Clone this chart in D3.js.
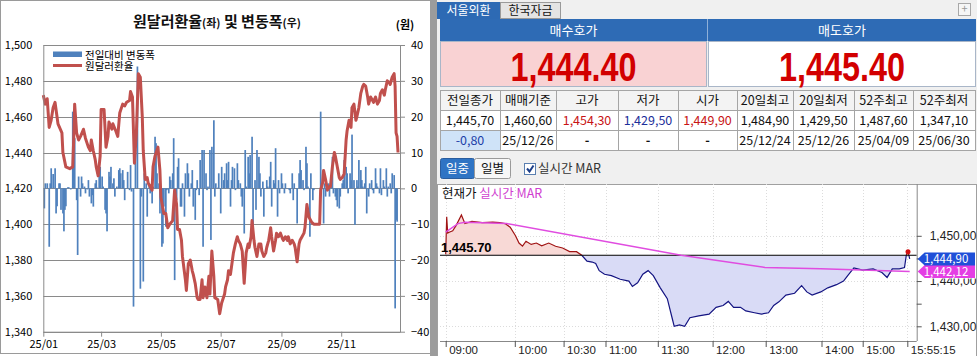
<!DOCTYPE html>
<html><head><meta charset="utf-8">
<script src="https://cdn.jsdelivr.net/npm/d3@7"></script>
<style>
html,body{margin:0;padding:0;background:#fff;}
svg{display:block;font-family:"Noto Sans CJK KR","Noto Sans",sans-serif;}
</style></head><body>
<svg id="c" width="977" height="356"></svg>
<script>
// ================= DATA : left chart =================
const lineDays = [0,2,4,6,8,10,12,14,15,19,20,23,27,30,31,32,34,36,38,41,43,46,48,49,51,53,54,56,58,59,62,64,66,67,70,71,74,76,78,81,83,85,88,89,91,93,95,97,99,101,102,104,106,107,109,111,112,114,117,119,120,123,125,127,129,132,134,136,137,139,141,142,145,146,148,150,152,153,155,157,158,160,162,163,165,167,169,170,172,174,175,178,180,182,185,186,188,189,191,193,194,196,198,199,201,203,205,207,209,210,212,213,215,216,218,220,222,223,225,227,228,230,232,233,235,237,238,240,242,244,245,247,249,250,252,254,256,257,259,261,262,264,266,267,269,271,273,274,276,282,283,285,286,288,290,292,293,295,297,298,300,302,303,305,307,309,310,312,314,315,317,319,320,322,324,326,327,329,331,332,334,336,337,339,341,343,344,346,348,349,351,353,354,356,358,359,360,361,362];
const lineValues = [1472,1467,1470,1454,1458,1465,1468,1460,1456,1451,1440,1432,1431,1432,1447,1467,1451,1447,1449,1453,1448,1443,1441,1447,1441,1436,1432,1427,1438,1464,1464,1443,1449,1457,1453,1456,1452,1449,1462,1467,1466,1468,1469,1474,1471,1434,1451,1484,1482,1460,1441,1425,1426,1423,1421,1419,1432,1438,1443,1430,1415,1406,1406,1398,1400,1402,1419,1411,1397,1397,1391,1382,1369,1363,1378,1380,1374,1372,1367,1359,1358,1358,1369,1359,1365,1359,1371,1361,1385,1371,1359,1358,1350,1356,1361,1365,1369,1374,1372,1380,1384,1389,1393,1391,1389,1385,1367,1384,1389,1387,1393,1402,1391,1387,1382,1389,1389,1385,1382,1384,1387,1391,1398,1393,1385,1391,1395,1393,1395,1392,1391,1393,1391,1393,1389,1391,1389,1387,1379,1389,1391,1393,1395,1398,1411,1404,1402,1401,1400,1400,1419,1423,1430,1425,1419,1421,1421,1432,1440,1438,1432,1426,1425,1426,1428,1447,1452,1458,1454,1465,1467,1458,1460,1465,1473,1477,1478,1477,1471,1467,1471,1469,1468,1471,1467,1469,1473,1475,1472,1475,1480,1479,1478,1482,1484,1477,1451,1449,1440];
const barDays = [1,2,4,6,7,8,10,12,13,14,16,17,18,20,21,22,23,25,26,28,30,31,32,34,35,36,38,39,40,42,43,45,46,47,49,50,51,53,54,55,57,58,60,61,63,64,65,67,68,69,71,72,73,75,77,78,79,81,82,83,85,86,88,89,90,92,94,96,99,100,102,103,105,106,108,109,111,112,114,115,116,118,119,121,122,123,125,126,128,129,130,132,133,134,136,137,138,140,141,142,144,145,147,148,149,151,152,153,155,156,157,159,160,162,163,164,166,167,168,170,171,172,174,175,176,178,179,181,182,184,185,187,188,189,191,192,193,195,196,198,199,201,202,203,205,206,207,209,210,211,213,214,216,217,218,220,221,222,224,225,226,228,229,231,232,233,235,236,237,239,240,241,243,244,246,247,248,250,251,252,254,255,256,258,259,261,262,263,265,266,268,269,270,272,273,275,276,283,284,286,287,288,290,291,292,294,295,296,298,299,300,302,303,305,306,307,309,310,311,313,314,315,317,318,320,321,322,324,325,326,328,329,330,332,333,335,336,337,339,340,341,343,344,345,347,348,350,351,352,354,355,356,358,359,360,361];
const barValues = [-5.6,1.4,1.4,-16.3,1.4,5.6,4,5.6,-7,-5,1.4,1.4,-6,-7,-12,-6,-5,0.3,0.3,-0.3,21.4,6.5,14,-3.3,-18.6,3.3,-2.3,3.3,1.4,0.5,-1.4,-0.3,2.3,-2.3,-4.2,-1.9,-5.1,1.4,2.3,0.2,4.6,6,3.3,0.5,-6,-7,-12,4.6,3.3,6,1.4,2.8,-2.3,0.5,5.1,5.6,4.2,5.1,2.3,-3.3,0.1,4.6,-0.5,6.5,-0.9,-33,10.7,34,-28,-2.3,-26,4.2,1.4,-7.9,1.4,-1.4,-4.2,0.5,14.4,12.6,4.2,1.4,-7,-16.3,-15.4,-5.1,-10.7,-0.5,-1.4,3.3,2.3,4.2,14,-25.6,-3.3,6,8.4,-5.1,-5.1,1.4,-7.9,4.2,7,4.2,-2.3,1.4,5.1,-5.1,-8.8,-0.5,2.3,-1.9,7.9,10.7,-16.3,10.7,4.2,-0.5,0.5,10.7,-14.4,11.6,19,-2.3,1.4,0.2,4.2,-7,6,2.3,4.2,7,2.3,7.4,-5.1,2.3,6,5.6,-0.5,7,2.3,1.4,-2.3,-5.1,-12.6,10.7,0.5,8.8,4.2,9.3,14.4,-12.6,2.3,-6,10.7,8.8,4.2,-2.3,1.9,-7.9,0.1,2.3,0.5,3.3,7.4,-5.1,2.3,1.4,11.2,-7.9,2.3,-1.4,4.2,1.4,-1.4,1.4,0.1,0.1,-0.5,-1.4,4.2,-3.3,1.4,0.1,-9.8,4.2,7.9,5.1,2.3,-0.5,11.6,7,0.5,-13.5,4.2,-3.3,-0.5,21.4,0.5,-9.8,1.4,-2.3,0.5,1.4,-2.3,3.3,8.8,-1.4,-2.3,-3.3,-5.1,-5.6,-2.3,1.4,2.3,7.9,6,4.2,-1.4,4.2,2.3,15,2.3,-10.2,2.3,0.5,7.9,5.1,2.3,0.5,1.4,6,-7,-2.3,1.4,2.3,-0.5,-1.4,5.6,1.4,0.5,-1.4,5.6,-1.9,2.3,0.5,5.6,-2.3,0.5,1.4,-1.4,4.2,3.7,-33.5,-8.8,-9.3];
const leftTicks = [1340,1360,1380,1400,1420,1440,1460,1480,1500];
const rightTicks = [-40,-30,-20,-10,0,10,20,30,40];
const monthTickMonths = [0,2,4,6,8,10];
const monthTickLabels = ["25/01","25/03","25/05","25/07","25/09","25/11"];
const legendLabels = ["전일대비 변동폭","원달러환율"];

// ================= DATA : right panel =================
const tabLabels = ["서울외환","한국자금"];
const quoteHeaders = ["매수호가","매도호가"];
const quoteValues = ["1,444.40","1,445.40"];
const tableHeaders = ["전일종가","매매기준","고가","저가","시가","20일최고","20일최저","52주최고","52주최저"];
const tableRow1 = ["1,445,70","1,460,60","1,454,30","1,429,50","1,449,90","1,484,90","1,429,50","1,487,60","1,347,10"];
const tableRow2 = ["-0,80","25/12/26","-","-","-","25/12/24","25/12/26","25/04/09","25/06/30"];
const row1Kinds = ["n","n","up","down","up","n","n","n","n"];
const intraIdx = [0,1,2,3.5,7,10.5,15.7,19.2,26.2,36.6,47.1,54,59.3,64.5,69.8,73.3,76.8,80.3,85.5,90.7,96,103,109.9,116.9,123.9,130.8,136.1,141.3,146.5,150,153.5,158.8,165.7,174.5,183.2,186.7,191.9,197.1,202.4,207.6,214.6,221.6,226.8,228.5,233.8,239,244.2,253,263.4,270.4,277.4,282.6,287.9,294.8,300.1,308.8,315.8,322.8,328,333.2,340.2,348.9,355.9,361.1,366.4,375.1,382.1,390.8,397.8,403,408.2,417,427.4,436.2,441.4,446.6,453.6,458.8,460.6,462.3,464];
const intraPrice = [1445.9,1454.2,1450.6,1450.8,1451.1,1452.3,1454.6,1452.7,1453.2,1452.9,1453.0,1452.9,1452.7,1451.9,1450.0,1448.4,1447.7,1448.8,1448.1,1448.4,1447.8,1448.4,1447.7,1447.3,1446.5,1446.5,1445.7,1444.4,1444.2,1443.9,1442.3,1441.5,1441.2,1440.4,1440.0,1438.8,1439.6,1441.5,1442.3,1441.2,1438.5,1436.1,1431.5,1430.0,1430.3,1430.0,1431.9,1432.3,1432.7,1434.2,1434.6,1435.5,1434.2,1434.2,1433.4,1433.0,1432.7,1433.0,1434.6,1435.4,1436.9,1437.3,1439.0,1437.6,1436.9,1437.6,1438.5,1439.2,1440.0,1441.5,1442.9,1442.4,1442.7,1441.9,1440.8,1442.7,1442.7,1443.0,1445.7,1446.5,1444.9];
const marIdx = [0,12.2,19.2,61,235.5,319.3,375,464];
const marValue = [1450.8,1452.7,1453.0,1452.7,1445.7,1443.0,1442.7,1442.12];
const prevClose = 1445.70;
const lastPrice = 1444.90;
const lastMar = 1442.12;
const intraTickIdx = [0,69.1,117.9,159.8,212.1,266.9,320,375.8,417,461.6];
const intraTickLabels = ["09:00","10:00","10:30","11:00","11:30","12:00","13:00","14:00","15:00","15:55:15"];
const priceAxisTicks = [1430,1440,1450];
const priceMinorTicks = [1430,1435,1440,1445,1450];

// ================= LEFT CHART =================
const svg = d3.select("#c");
const toDate = d => new Date(2025,0,1+d);
const xL = d3.scaleTime().domain([new Date(2025,0,1), new Date(2025,11,31)]).range([43.3,400]);
const yL = d3.scaleLinear().domain([1340,1500]).range([331.7,45]);
const yR = d3.scaleLinear().domain([-40,40]).range([331.7,45]);

const L = svg.append("g");
L.append("rect").attr("x",0.5).attr("y",0.5).attr("width",430).attr("height",353).attr("fill","#fff").attr("stroke","#9a9a9a");

// gridlines
L.append("g").selectAll("line").data(leftTicks).join("line")
  .attr("x1",43.3).attr("x2",400)
  .attr("y1",d=>Math.round(yL(d))+0.5).attr("y2",d=>Math.round(yL(d))+0.5)
  .attr("stroke","#8a8a8a").attr("stroke-width",1);

// bars
L.append("g").selectAll("rect").data(barDays.map((d,i)=>({d,v:barValues[i]}))).join("rect")
  .attr("x",p=>xL(toDate(p.d))-0.8).attr("width",1.7)
  .attr("y",p=>Math.min(yR(p.v),yR(0))).attr("height",p=>Math.abs(yR(p.v)-yR(0)))
  .attr("fill","#4f81bd");

// line
const lineData = lineDays.map((d,i)=>({d,v:lineValues[i]}));
L.append("path").datum(lineData)
  .attr("d",d3.line().x(p=>xL(toDate(p.d))).y(p=>yL(p.v)))
  .attr("fill","none").attr("stroke","#c0504d").attr("stroke-width",3).attr("stroke-linejoin","round");

// axes
const axL = L.append("g").attr("transform","translate(43.3,0)")
  .call(d3.axisLeft(yL).tickValues(leftTicks).tickFormat(d3.format(",")).tickSize(0).tickPadding(11));
const axR = L.append("g").attr("transform","translate(400,0)")
  .call(d3.axisRight(yR).tickValues(rightTicks).tickFormat(d3.format("d")).tickSizeInner(5).tickSizeOuter(0).tickPadding(6));
const axB = L.append("g").attr("transform","translate(0,331.7)")
  .call(d3.axisBottom(xL).tickValues(monthTickMonths.map(m=>new Date(2025,m,1))).tickFormat((d,i)=>monthTickLabels[i]).tickSizeInner(5).tickSizeOuter(0).tickPadding(4));
[axL,axR,axB].forEach(a=>{
  a.select(".domain").attr("stroke","#8a8a8a");
  a.selectAll(".tick line").attr("stroke","#8a8a8a");
  a.selectAll("text").attr("fill","#000").style("font-size","11px").style("font-family","'Noto Sans CJK KR',sans-serif");
});

// title
const title = L.append("text").attr("x",217).attr("y",27).attr("text-anchor","middle")
  .style("font-size","15px").style("font-weight","700").attr("fill","#111");
title.append("tspan").text("원달러환율");
title.append("tspan").text("(좌)").style("font-size","11px");
title.append("tspan").text(" 및 변동폭");
title.append("tspan").text("(우)").style("font-size","11px");
L.append("text").attr("x",405).attr("y",29).attr("text-anchor","middle").style("font-size","11px").style("font-weight","700").text("(원)");

// legend
L.append("rect").attr("x",53).attr("y",51.5).attr("width",29).attr("height",5.5).attr("fill","#4f81bd");
L.append("line").attr("x1",53).attr("x2",82).attr("y1",65.5).attr("y2",65.5).attr("stroke","#c0504d").attr("stroke-width",3);
L.selectAll("text.leg").data(legendLabels).join("text").attr("class","leg")
  .attr("x",85).attr("y",(d,i)=>58.5+i*11.5).style("font-size","10.5px").text(d=>d);

// ================= RIGHT PANEL =================
const R = svg.append("g");
R.append("rect").attr("x",430).attr("y",0).attr("width",7).attr("height",356).attr("fill","#9c9c9c");
R.append("rect").attr("x",437).attr("y",0).attr("width",540).attr("height",356).attr("fill","#f0f0f0");

// tabs
const tabX = [437,500], tabW = [63,61];
tabLabels.forEach((t,i)=>{
  R.append("rect").attr("x",tabX[i]+0.5).attr("y",2.5).attr("width",tabW[i]-1).attr("height",16)
    .attr("fill",i===0?"#2d6ab4":"#e4e4e4").attr("stroke",i===0?"#2d6ab4":"#9a9a9a");
  R.append("text").attr("x",tabX[i]+tabW[i]/2).attr("y",15).attr("text-anchor","middle")
    .style("font-size","12px").attr("fill",i===0?"#fff":"#111").text(t);
});
R.append("rect").attr("x",958.5).attr("y",3.5).attr("width",12).attr("height",12).attr("fill","#f6f6f6").attr("stroke","#a8a8a8");
R.append("text").attr("x",964.5).attr("y",13).attr("text-anchor","middle").style("font-size","11px").attr("fill","#999").text("+");

// quote header + values
const qX = [440,708], qW = [267,268];
quoteHeaders.forEach((h,i)=>{
  R.append("rect").attr("x",qX[i]).attr("y",19).attr("width",qW[i]).attr("height",22).attr("fill","#2e6bb5");
  R.append("text").attr("x",qX[i]+qW[i]/2).attr("y",35).attr("text-anchor","middle").style("font-size","13px").attr("fill","#fff").text(h);
  R.append("rect").attr("x",qX[i]+0.5).attr("y",41.5).attr("width",qW[i]-1).attr("height",45).attr("fill",i===0?"#f9d2d3":"#fff").attr("stroke","#a9b6c8");
  R.append("text").attr("x",qX[i]+qW[i]/2).attr("y",81).attr("text-anchor","middle")
    .style("font-family","'Liberation Sans',Arial,sans-serif").style("font-size","40px").style("font-weight","700")
    .attr("fill","#d20000").attr("textLength",126).attr("lengthAdjust","spacingAndGlyphs").text(quoteValues[i]);
});
R.append("line").attr("x1",707.5).attr("x2",707.5).attr("y1",19).attr("y2",41).attr("stroke","#8fb0d8");

// table
const colB = [440,500,556,618,678,737,793,854,913,975];
const rowY = [90,110,130,150];
const tbl = R.append("g");
for(let r=0;r<3;r++){
  for(let c=0;c<9;c++){
    let fill = r===0?"#f3f3f3":"#ffffff";
    if(r===2 && c===0) fill="#cfe3f8";
    tbl.append("rect").attr("x",colB[c]+0.5).attr("y",rowY[r]+0.5).attr("width",colB[c+1]-colB[c]).attr("height",rowY[r+1]-rowY[r])
      .attr("fill",fill).attr("stroke","#a5a5a5");
  }
}
const colColor = k => k==="up"?"#c81414":(k==="down"?"#1c2f9a":"#111");
tableHeaders.forEach((t,c)=>{
  tbl.append("text").attr("x",(colB[c]+colB[c+1])/2).attr("y",105).attr("text-anchor","middle").style("font-size","12.5px").attr("fill","#111").text(t);
});
tableRow1.forEach((t,c)=>{
  tbl.append("text").attr("x",(colB[c]+colB[c+1])/2).attr("y",125).attr("text-anchor","middle").style("font-size","12.5px").attr("fill",colColor(row1Kinds[c])).text(t);
});
tableRow2.forEach((t,c)=>{
  tbl.append("text").attr("x",(colB[c]+colB[c+1])/2).attr("y",145).attr("text-anchor","middle").style("font-size","12.5px")
    .attr("fill",c===0?"#1c3fa8":"#111").style("font-weight",t==="-"?"700":"400").text(t);
});

// buttons
R.append("rect").attr("x",440.5).attr("y",158.5).attr("width",34).attr("height",20).attr("rx",2).attr("fill","#2f74c4").attr("stroke","#2a5d9e");
R.append("text").attr("x",457.5).attr("y",173).attr("text-anchor","middle").style("font-size","12.5px").attr("fill","#fff").text("일중");
R.append("rect").attr("x",474.5).attr("y",158.5).attr("width",36).attr("height",20).attr("rx",2).attr("fill","#f7f7f7").attr("stroke","#9a9a9a");
R.append("text").attr("x",492.5).attr("y",173).attr("text-anchor","middle").style("font-size","12.5px").attr("fill","#111").text("일별");
R.append("rect").attr("x",524.5).attr("y",163.5).attr("width",11).attr("height",11).attr("fill","#fff").attr("stroke","#5a7fb0");
R.append("path").attr("d","M527,168.5 L529.5,171.5 L533.5,165.5").attr("fill","none").attr("stroke","#1c3f8a").attr("stroke-width",2);
R.append("text").attr("x",538).attr("y",173).style("font-size","12.5px").attr("fill","#333").text("실시간 MAR");

// intraday chart
const px0 = 440, px1 = 916.7, py0 = 184, py1 = 341;
R.append("rect").attr("x",437.5).attr("y",py0+0.5).attr("width",539).attr("height",356-py0).attr("fill","#fff").attr("stroke","#a0a0a0");
const xI = d3.scaleLinear().domain([-5.7,471]).range([px0,px1]);
const yI = d3.scaleLinear().domain([1430,1450]).range([326.3,235.8]);
const yBase = yI(prevClose);

// grid
R.append("g").selectAll("line").data(intraTickIdx).join("line")
  .attr("x1",d=>Math.round(xI(d))+0.5).attr("x2",d=>Math.round(xI(d))+0.5).attr("y1",py0).attr("y2",py1)
  .attr("stroke","#dcdcdc").attr("stroke-dasharray","1,2");
R.append("g").selectAll("line").data(priceAxisTicks).join("line")
  .attr("x1",px0).attr("x2",px1).attr("y1",d=>Math.round(yI(d))+0.5).attr("y2",d=>Math.round(yI(d))+0.5)
  .attr("stroke","#dcdcdc").attr("stroke-dasharray","1,2");

const defs = svg.append("defs");
defs.append("clipPath").attr("id","cAbove").append("rect").attr("x",px0).attr("y",py0).attr("width",px1-px0).attr("height",yBase-py0);
defs.append("clipPath").attr("id","cBelow").append("rect").attr("x",px0).attr("y",yBase).attr("width",px1-px0).attr("height",py1-yBase);
defs.append("clipPath").attr("id","cLab").append("rect").attr("x",918).attr("y",yI(lastMar)+6.5).attr("width",59).attr("height",30);

const intraData = intraIdx.map((d,i)=>({i:d,v:intraPrice[i]}));
const areaGen = d3.area().x(p=>xI(p.i)).y0(yBase).y1(p=>yI(p.v));
const lineGen = d3.line().x(p=>xI(p.i)).y(p=>yI(p.v));
R.append("path").datum(intraData).attr("d",areaGen).attr("fill","#f8d9d6").attr("clip-path","url(#cAbove)");
R.append("path").datum(intraData).attr("d",areaGen).attr("fill","#d9dbf6").attr("clip-path","url(#cBelow)");
R.append("path").datum(intraData).attr("d",lineGen).attr("fill","none").attr("stroke","#a01414").attr("stroke-width",1.2).attr("clip-path","url(#cAbove)");
R.append("path").datum(intraData).attr("d",lineGen).attr("fill","none").attr("stroke","#141482").attr("stroke-width",1.2).attr("clip-path","url(#cBelow)");

// baseline
R.append("line").attr("x1",px0).attr("x2",px1).attr("y1",yBase).attr("y2",yBase).attr("stroke","#000").attr("stroke-width",1);
R.append("text").attr("x",441).attr("y",yBase-3).style("font-size","13px").style("font-weight","700")
  .style("font-family","'Liberation Sans',Arial,sans-serif").text(d3.format(",.2f")(prevClose));

// MAR
const marData = marIdx.map((d,i)=>({i:d,v:marValue[i]}));
R.append("path").datum(marData).attr("d",lineGen).attr("fill","none").attr("stroke","#e04ce0").attr("stroke-width",1.5);
R.append("circle").attr("cx",xI(462.3)).attr("cy",yI(1446.5)).attr("r",2.5).attr("fill","#d01010");

// legend
const lg = R.append("text").attr("x",442).attr("y",198).style("font-size","12.5px");
lg.append("tspan").attr("fill","#111").text("현재가 ");
lg.append("tspan").attr("fill","#d040d0").text("실시간 MAR");

// plot frame / axes
R.append("line").attr("x1",px1+0.5).attr("x2",px1+0.5).attr("y1",py0).attr("y2",py1).attr("stroke","#888");
R.append("line").attr("x1",px0).attr("x2",px1).attr("y1",py1+0.5).attr("y2",py1+0.5).attr("stroke","#888");
const axT = R.append("g").attr("transform",`translate(0,${py1})`)
  .call(d3.axisBottom(xI).tickValues(intraTickIdx).tickFormat((d,i)=>intraTickLabels[i]).tickSizeInner(6).tickSizeOuter(0));
axT.select(".domain").remove();
axT.selectAll(".tick line").attr("stroke","#555");
axT.selectAll("text").attr("text-anchor","start").attr("dx","3").attr("y",12.5).attr("dy","0").attr("fill","#222").style("font-size","11.5px");

const axP = R.append("g").attr("transform",`translate(${px1},0)`)
  .call(d3.axisRight(yI).tickValues(priceMinorTicks).tickFormat(d=>priceAxisTicks.includes(d)?d3.format(",.2f")(d).replace(".",","):"").tickSizeInner(5).tickSizeOuter(0).tickPadding(8));
axP.select(".domain").remove();
axP.selectAll(".tick line").attr("stroke","#555");
axP.selectAll("text").attr("fill","#222").style("font-size","12px");
// the 1,440 label sits partly under the price tags in the reference: clip its hidden top part
axP.selectAll(".tick").filter(d=>d===1440).select("text").attr("clip-path","url(#cLabLocal)");
axP.selectAll(".tick").filter(d=>d===1440).each(function(d){
  const g = d3.select(this);
  const ty = yI(d);
  g.append("clipPath").attr("id","cLabLocal").append("rect").attr("x",0).attr("y",yI(lastMar)+6.5-ty).attr("width",60).attr("height",30);
});

// price tags
function tag(v, color){
  const y = yI(v);
  R.append("path").attr("d",`M${px1+1},${y} L${px1+8},${y-6.5} L975,${y-6.5} L975,${y+6.5} L${px1+8},${y+6.5} Z`).attr("fill",color);
  R.append("text").attr("x",946).attr("y",y+4.3).attr("text-anchor","middle").style("font-size","11.5px").attr("fill","#fff")
    .text(d3.format(",.2f")(v).replace(".",","));
}
tag(lastMar,"#e43ee4");
tag(lastPrice,"#1f4fd8");
</script>
</body></html>
